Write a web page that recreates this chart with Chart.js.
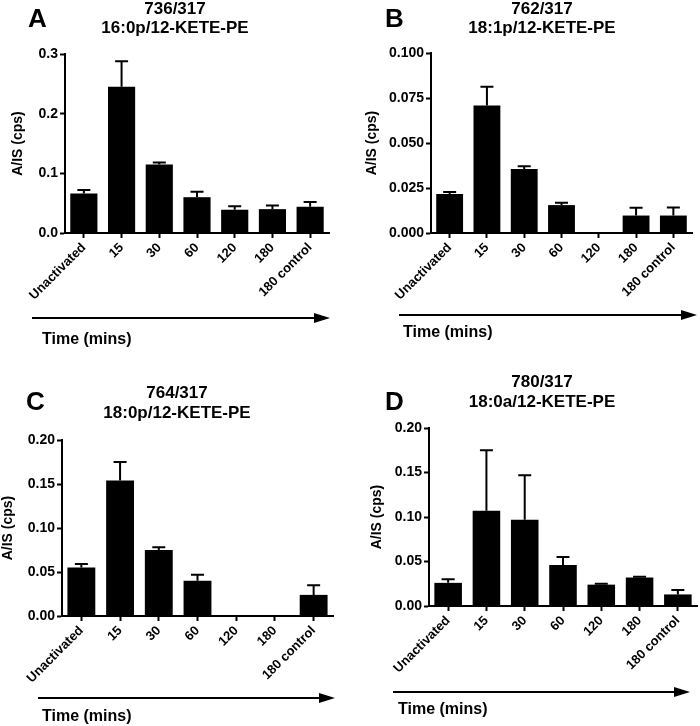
<!DOCTYPE html>
<html>
<head>
<meta charset="utf-8">
<title>12-KETE-PE time course</title>
<script src="https://cdn.jsdelivr.net/npm/chart.js@4.4.1/dist/chart.umd.min.js"></script>
<style>
  body { margin: 0; background: #fff; }
  .panel { position: absolute; width: 350px; height: 363px; }
</style>
</head>
<body>
<div class="panel" style="left:0;top:0"><canvas id="chartA" width="350" height="363"></canvas></div>
<div class="panel" style="left:350px;top:0"><canvas id="chartB" width="350" height="363"></canvas></div>
<div class="panel" style="left:0;top:363px"><canvas id="chartC" width="350" height="363"></canvas></div>
<div class="panel" style="left:350px;top:363px"><canvas id="chartD" width="350" height="363"></canvas></div>
<script>
// x categories (time after activation)
var timeLabels = ['Unactivated', '15', '30', '60', '120', '180', '180 control'];

// A: 736/317 16:0p/12-KETE-PE
var aValues = [0.066, 0.245, 0.115, 0.060, 0.039, 0.040, 0.044];
var aErrors = [0.006, 0.043, 0.003, 0.009, 0.006, 0.006, 0.008];
// B: 762/317 18:1p/12-KETE-PE
var bValues = [0.0217, 0.0708, 0.0355, 0.0155, 0.0003, 0.0097, 0.0097];
var bErrors = [0.0011, 0.0104, 0.0016, 0.0013, 0, 0.0043, 0.0045];
// C: 764/317 18:0p/12-KETE-PE
var cValues = [0.055, 0.154, 0.075, 0.040, 0.0005, 0.0005, 0.024];
var cErrors = [0.004, 0.021, 0.003, 0.007, 0, 0, 0.011];
// D: 780/317 18:0a/12-KETE-PE
var dValues = [0.026, 0.107, 0.097, 0.046, 0.024, 0.032, 0.013];
var dErrors = [0.004, 0.068, 0.050, 0.009, 0.001, 0.001, 0.005];

// y axis ticks per panel
var aTicks = { max: 0.3, step: 0.1, dec: 1 };
var bTicks = { max: 0.1, step: 0.025, dec: 3 };
var cTicks = { max: 0.2, step: 0.05, dec: 2 };
var dTicks = { max: 0.2, step: 0.05, dec: 2 };

var FONT = "'Liberation Sans', Arial, sans-serif";

// mean + SEM whiskers, upper side only
var errorBars = {
  id: 'errorBars',
  afterDatasetsDraw: function(chart, args, opts) {
    var ctx = chart.ctx;
    var y = chart.scales.y;
    var vals = chart.data.datasets[0].data;
    ctx.save();
    ctx.strokeStyle = '#000';
    ctx.lineWidth = 2;
    chart.getDatasetMeta(0).data.forEach(function(bar, i) {
      var e = opts.errors[i];
      if (!e) return;
      var top = y.getPixelForValue(vals[i] + e);
      ctx.beginPath();
      ctx.moveTo(bar.x, bar.y);
      ctx.lineTo(bar.x, top);
      ctx.moveTo(bar.x - 6.5, top);
      ctx.lineTo(bar.x + 6.5, top);
      ctx.stroke();
    });
    ctx.restore();
  }
};

// panel letter, two-line title, time arrow
var decor = {
  id: 'decor',
  afterDraw: function(chart, args, o) {
    var ctx = chart.ctx;
    ctx.save();
    ctx.fillStyle = '#000';
    ctx.strokeStyle = '#000';
    ctx.textBaseline = 'middle';

    ctx.font = 'bold 26px ' + FONT;
    ctx.textAlign = 'left';
    ctx.fillText(o.letter, o.lx, o.ly);

    ctx.font = 'bold 17px ' + FONT;
    ctx.textAlign = 'center';
    ctx.fillText(o.title[0], o.tx, o.ty[0]);
    ctx.fillText(o.title[1], o.tx, o.ty[1]);

    ctx.lineWidth = 2;
    ctx.beginPath();
    ctx.moveTo(o.ax1, o.ay);
    ctx.lineTo(o.ax2 - 12, o.ay);
    ctx.stroke();
    ctx.beginPath();
    ctx.moveTo(o.ax2, o.ay);
    ctx.lineTo(o.ax2 - 16, o.ay - 5);
    ctx.lineTo(o.ax2 - 16, o.ay + 5);
    ctx.closePath();
    ctx.fill();

    ctx.font = 'bold 16px ' + FONT;
    ctx.textAlign = 'left';
    ctx.fillText('Time (mins)', o.timeX, o.timeY);
    ctx.restore();
  }
};

function makePanel(id, values, errors, ticks, lay, deco) {
  new Chart(document.getElementById(id), {
    type: 'bar',
    data: {
      labels: timeLabels,
      datasets: [{
        data: values,
        backgroundColor: '#000',
        borderWidth: 0,
        categoryPercentage: 1,
        barPercentage: 0.72
      }]
    },
    options: {
      responsive: false,
      animation: false,
      layout: { padding: { left: lay.left, right: lay.right, top: lay.top, bottom: 0 } },
      plugins: {
        legend: { display: false },
        tooltip: { enabled: false },
        errorBars: { errors: errors },
        decor: deco
      },
      scales: {
        x: {
          afterFit: function(s) { s.height = lay.xHeight; },
          grid: { offset: false, drawOnChartArea: false, tickLength: 5, tickColor: '#000', tickWidth: 2 },
          border: { color: '#000', width: 2 },
          ticks: {
            autoSkip: false, minRotation: 45, maxRotation: 45, padding: 2,
            color: '#000', font: { family: FONT, weight: 'bold', size: 13 }
          }
        },
        y: {
          min: 0, max: ticks.max,
          afterFit: function(s) { s.width = lay.yWidth; },
          grid: { drawOnChartArea: false, tickLength: 5, tickColor: '#000', tickWidth: 2 },
          border: { color: '#000', width: 2 },
          ticks: {
            stepSize: ticks.step, padding: 2, color: '#000',
            font: { family: FONT, weight: 'bold', size: 14 },
            callback: function(v) { return Number(v).toFixed(ticks.dec); }
          },
          title: {
            display: true, text: 'A/IS (cps)', color: '#000', padding: 0,
            font: { family: FONT, weight: 'bold', size: 14 }
          }
        }
      }
    },
    plugins: [errorBars, decor]
  });
}

makePanel('chartA', aValues, aErrors, aTicks,
  { left: 10, right: 21, top: 54, yWidth: 55, xHeight: 130 },
  { letter: 'A', lx: 28, ly: 20, title: ['736/317', '16:0p/12-KETE-PE'], tx: 175, ty: [9, 28],
    ax1: 32, ax2: 330, ay: 318, timeX: 42, timeY: 340 });

makePanel('chartB', bValues, bErrors, bTicks,
  { left: 14, right: 8, top: 53, yWidth: 67, xHeight: 130 },
  { letter: 'B', lx: 35, ly: 20, title: ['762/317', '18:1p/12-KETE-PE'], tx: 192, ty: [9, 28],
    ax1: 49, ax2: 347, ay: 315, timeX: 53, timeY: 333 });

makePanel('chartC', cValues, cErrors, cTicks,
  { left: 0, right: 17, top: 77, yWidth: 62, xHeight: 110 },
  { letter: 'C', lx: 26, ly: 40, title: ['764/317', '18:0p/12-KETE-PE'], tx: 177, ty: [30, 50],
    ax1: 38, ax2: 335, ay: 335, timeX: 42, timeY: 354 });

makePanel('chartD', dValues, dErrors, dTicks,
  { left: 19, right: 3, top: 65, yWidth: 60, xHeight: 120 },
  { letter: 'D', lx: 35, ly: 40, title: ['780/317', '18:0a/12-KETE-PE'], tx: 192, ty: [19, 39],
    ax1: 43, ax2: 340, ay: 329, timeX: 48, timeY: 347 });
</script>
</body>
</html>
